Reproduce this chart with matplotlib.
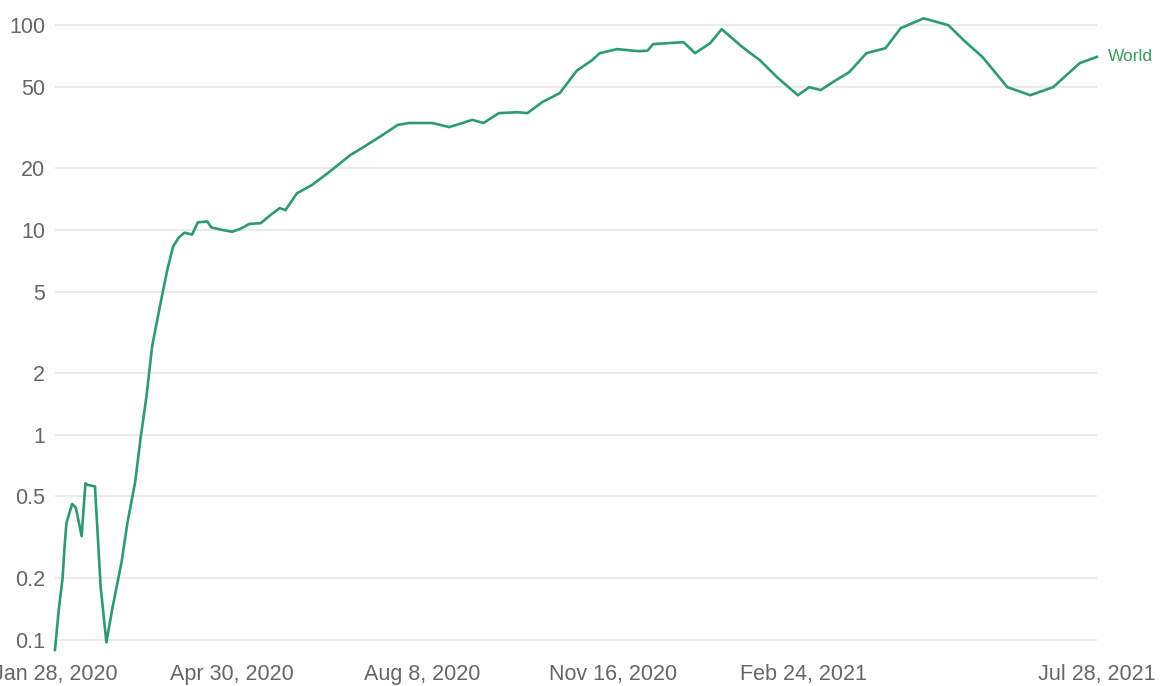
import matplotlib
matplotlib.use('Agg')
import matplotlib.pyplot as plt
import matplotlib.ticker as mticker
import pandas as pd

# world series (days after Jan 28, 2020)
start_date = '2020-01-28'
days = [0, 2, 4, 5, 6, 9, 11, 14, 16, 17, 21, 24, 27, 30, 35, 38, 42, 45, 48, 51,
        55, 59, 62, 65, 68, 72, 75, 80, 82, 88, 93, 97, 102, 108, 113, 118, 121, 127,
        135, 144, 155, 162, 172, 180, 186, 198, 207, 214, 219, 225, 233, 243, 248,
        256, 265, 274, 282, 286, 295, 306, 311, 314, 330, 336, 344, 350, 361, 370,
        379, 390, 396, 402, 410, 417, 426, 436, 444, 456, 469, 477, 487, 500, 512,
        524, 538, 547]
values = [0.089, 0.14, 0.2, 0.28, 0.37, 0.46, 0.44, 0.32, 0.58, 0.57, 0.56, 0.18,
          0.097, 0.14, 0.24, 0.37, 0.58, 0.97, 1.53, 2.7, 4.2, 6.4, 8.3, 9.2, 9.7,
          9.5, 10.9, 11.0, 10.3, 10.0, 9.8, 10.1, 10.7, 10.8, 11.8, 12.8, 12.5, 15.1,
          16.6, 19.2, 23.2, 25.4, 29.1, 32.6, 33.3, 33.3, 31.8, 33.3, 34.5, 33.3,
          37.2, 37.6, 37.2, 42.2, 46.6, 60.0, 67.5, 73.0, 76.4, 74.7, 75.0, 80.8,
          82.6, 73.0, 81.7, 95.6, 78.0, 67.5, 55.8, 45.5, 49.8, 48.2, 53.9, 59.0,
          73.0, 77.2, 96.7, 108.0, 100.0, 84.5, 69.8, 49.8, 45.5, 49.8, 65.3, 70.0]

y_ticks = [0.1, 0.2, 0.5, 1, 2, 5, 10, 20, 50, 100]
y_labels = ['0.1', '0.2', '0.5', '1', '2', '5', '10', '20', '50', '100']
x_ticks = ['2020-01-28', '2020-04-30', '2020-08-08', '2020-11-16', '2021-02-24', '2021-07-28']
x_labels = ['Jan 28, 2020', 'Apr 30, 2020', 'Aug 8, 2020', 'Nov 16, 2020', 'Feb 24, 2021', 'Jul 28, 2021']

LINE = '#2e9a74'
TEXT = '#666666'

plt.rcParams['font.family'] = ['Liberation Sans', 'DejaVu Sans']

dates = pd.to_datetime(start_date) + pd.to_timedelta(days, unit='D')

fig = plt.figure(figsize=(11.62, 6.86), dpi=100)
ax = fig.add_axes([0.0473, 0.051, 0.8967, 0.927])

ax.plot(dates, values, color=LINE, linewidth=1.9, clip_on=False, zorder=3)
ax.set_yscale('log')
ax.set_ylim(0.088, 112)
ax.set_xlim(pd.Timestamp(x_ticks[0]), pd.Timestamp(x_ticks[-1]))

ax.yaxis.set_major_locator(mticker.FixedLocator(y_ticks))
ax.yaxis.set_minor_locator(mticker.NullLocator())
ax.set_yticklabels(y_labels)
ax.set_xticks(pd.to_datetime(x_ticks))
ax.set_xticklabels(x_labels)

ax.tick_params(axis='both', length=0, labelsize=15.5, colors=TEXT)
ax.tick_params(axis='y', pad=7)
ax.tick_params(axis='x', pad=9)
for s in ax.spines.values():
	s.set_visible(False)
ax.grid(axis='y', color='#e8e8e8', linewidth=1.3)
ax.set_axisbelow(True)

ax.annotate('World', xy=(dates[-1], values[-1]), xytext=(8, 0), textcoords='offset points',
	color='#3a9a5c', fontsize=12.5, va='center', ha='left', annotation_clip=False)

fig.savefig('out.png', dpi=100)
